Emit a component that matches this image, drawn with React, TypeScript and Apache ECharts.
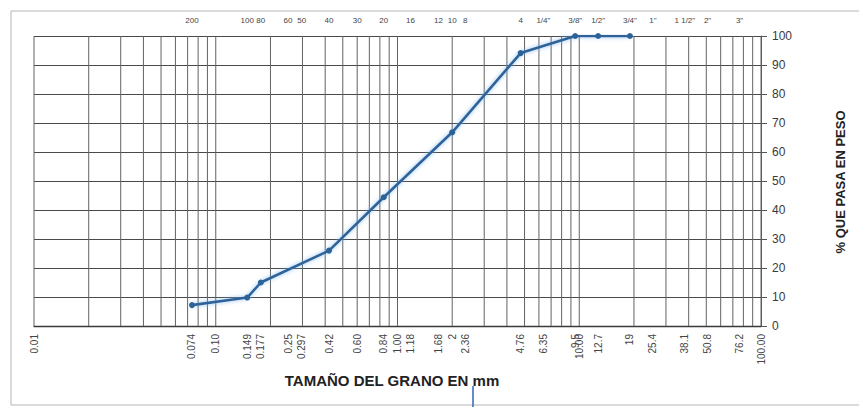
import React, { useEffect, useRef } from "react";
import * as echarts from "echarts";

// Curva granulométrica: abertura del tamiz (mm) y % que pasa en peso
const sieveSizesMm = [0.074, 0.149, 0.177, 0.42, 0.84, 2.0, 4.76, 9.5, 12.7, 19];
const percentPassing = [7.2, 9.8, 15, 26, 44.4, 66.8, 94.1, 100, 100, 100];

// Etiquetas inferiores (aberturas en mm)
const bottomLabelValues = [
  0.01, 0.074, 0.1, 0.149, 0.177, 0.25, 0.297, 0.42, 0.6, 0.84, 1, 1.18, 1.68, 2, 2.36,
  4.76, 6.35, 9.5, 10, 12.7, 19, 25.4, 38.1, 50.8, 76.2, 100,
];
const bottomLabelTexts = [
  "0.01", "0.074", "0.10", "0.149", "0.177", "0.25", "0.297", "0.42", "0.60", "0.84", "1.00",
  "1.18", "1.68", "2", "2.36", "4.76", "6.35", "9.5", "10.00", "12.7", "19", "25.4", "38.1",
  "50.8", "76.2", "100.00",
];

// Etiquetas superiores (designación del tamiz)
const topLabelValues = [
  0.074, 0.149, 0.177, 0.25, 0.297, 0.42, 0.6, 0.84, 1.18, 1.68, 2, 2.36, 4.76, 6.35, 9.5,
  12.7, 19, 25.4, 38.1, 50.8, 76.2,
];
const topLabelTexts = [
  "200", "100", "80", "60", "50", "40", "30", "20", "16", "12", "10", "8", "4",
  '1/4"', '3/8"', '1/2"', '3/4"', '1"', '1 1/2"', '2"', '3"',
];

// Papel semilogarítmico: ciclos de 0.01 a 100 mm
const logDecades = [0.01, 0.1, 1, 10];
const logMultipliers = [1, 2, 3, 4, 5, 6, 7, 8, 9];
const logGridValues: number[] = [];
logDecades.forEach((d) =>
  logMultipliers.forEach((m) => logGridValues.push(parseFloat((d * m).toPrecision(6))))
);
logGridValues.push(100);

const FONT = "'Liberation Sans', Arial, sans-serif";
const LINE_BLUE = "#2d6299";

export default function App() {
  const ref = useRef<HTMLDivElement>(null);

  useEffect(() => {
    if (!ref.current) return;
    const chart = echarts.init(ref.current, undefined, { renderer: "svg" });

    const option: any = {
      animation: false,
      backgroundColor: "#ffffff",
      grid: { left: 34, right: 98, top: 36, bottom: 81 },
      xAxis: {
        type: "log",
        logBase: 10,
        min: 0.01,
        max: 100,
        axisLabel: { show: false },
        axisTick: { show: false },
        splitLine: { show: false },
        axisLine: { show: true, lineStyle: { color: "#3a3a3a", width: 1.4 } },
      },
      yAxis: {
        type: "value",
        position: "right",
        min: 0,
        max: 100,
        interval: 10,
        axisLine: { show: true, lineStyle: { color: "#555", width: 1 } },
        axisTick: { show: true, length: 6, lineStyle: { color: "#555" } },
        axisLabel: { fontSize: 12, color: "#3a3a3a", margin: 11, fontFamily: FONT },
        splitLine: { show: true, lineStyle: { color: "#4a4a4a", width: 1 } },
      },
      graphic: [
        {
          type: "rect",
          shape: { x: 11, y: 11, width: 900, height: 394 },
          style: { fill: "none", stroke: "#b5b5b5", lineWidth: 1 },
          z: 0,
        },
        {
          type: "text",
          x: 392,
          y: 380,
          style: {
            text: "TAMAÑO DEL GRANO EN mm",
            fontSize: 15,
            fontWeight: "bold",
            fill: "#222",
            fontFamily: FONT,
            align: "center",
            verticalAlign: "middle",
          },
        },
        {
          type: "line",
          shape: { x1: 473, y1: 386, x2: 473, y2: 407 },
          style: { stroke: "#3464b4", lineWidth: 1.5 },
        },
        {
          type: "text",
          x: 840,
          y: 182,
          rotation: Math.PI / 2,
          style: {
            text: "% QUE PASA EN PESO",
            fontSize: 13,
            fontWeight: "bold",
            fill: "#222",
            fontFamily: FONT,
            align: "center",
            verticalAlign: "middle",
          },
        },
      ],
      series: [
        {
          // líneas verticales del papel logarítmico
          type: "custom",
          silent: true,
          clip: false,
          z: 1,
          data: logGridValues.map((v) => [v, 0]),
          renderItem: (_params: any, api: any) => {
            const v = api.value(0);
            const p0 = api.coord([v, 0]);
            const p1 = api.coord([v, 100]);
            return {
              type: "line",
              shape: { x1: p0[0], y1: p0[1], x2: p1[0], y2: p1[1] },
              style: { stroke: "#626262", lineWidth: 1 },
            };
          },
        },
        {
          // aberturas en mm bajo el eje
          type: "custom",
          silent: true,
          clip: false,
          z: 2,
          data: bottomLabelValues.map((v) => [v, 0]),
          renderItem: (params: any, api: any) => {
            const p = api.coord([api.value(0), 0]);
            return {
              type: "text",
              x: p[0],
              y: p[1] + 8,
              rotation: Math.PI / 2,
              style: {
                text: bottomLabelTexts[params.dataIndex],
                fontSize: 10,
                fill: "#444",
                fontFamily: FONT,
                align: "right",
                verticalAlign: "middle",
              },
            };
          },
        },
        {
          // número de tamiz sobre el gráfico
          type: "custom",
          silent: true,
          clip: false,
          z: 2,
          data: topLabelValues.map((v) => [v, 100]),
          renderItem: (params: any, api: any) => {
            const p = api.coord([api.value(0), 100]);
            return {
              type: "text",
              x: p[0],
              y: p[1] - 16,
              style: {
                text: topLabelTexts[params.dataIndex],
                fontSize: 8,
                fill: "#444",
                fontFamily: FONT,
                align: "center",
                verticalAlign: "middle",
              },
            };
          },
        },
        {
          name: "% que pasa",
          type: "line",
          z: 5,
          data: sieveSizesMm.map((s, i) => [s, percentPassing[i]]),
          symbol: "circle",
          symbolSize: 6,
          lineStyle: {
            color: LINE_BLUE,
            width: 2.6,
            shadowColor: "rgba(120,180,235,0.85)",
            shadowBlur: 4,
          },
          itemStyle: { color: LINE_BLUE },
        },
      ],
    };

    chart.setOption(option);
    return () => chart.dispose();
  }, []);

  return (
    <div
      ref={ref}
      style={{ position: "fixed", left: 0, top: 0, width: 859, height: 407 }}
    />
  );
}
